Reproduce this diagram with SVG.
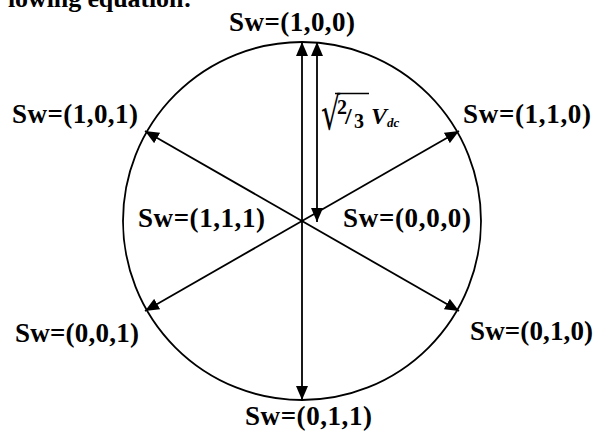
<svg xmlns="http://www.w3.org/2000/svg" width="598" height="439" viewBox="0 0 598 439">
<style>
.lbl{font-family:"Liberation Serif","Times New Roman",serif;font-weight:bold;font-size:27px;fill:#000}
.conn{stroke:#000;stroke-width:1.8;fill:none}
</style>
<defs>
<marker id="ah" viewBox="0 0 14 12" refX="14" refY="6" markerWidth="14" markerHeight="12" markerUnits="userSpaceOnUse" orient="auto-start-reverse">
<path d="M0,0 L14,6 L0,12 Z" fill="#000"/>
</marker>
</defs>
<rect width="598" height="439" fill="#fff"/>
<text x="8" y="7" font-family="Liberation Serif, serif" font-weight="bold" font-size="26" textLength="184">lowing equation:</text>
<g id="circle"><circle cx="302" cy="221" r="179" fill="none" stroke="#000" stroke-width="1.8"/></g>
<g id="connectors">
<line class="conn" x1="302" y1="42" x2="302" y2="400" marker-start="url(#ah)" marker-end="url(#ah)"/>
<line class="conn" x1="317" y1="42" x2="317" y2="222" marker-start="url(#ah)" marker-end="url(#ah)"/>
<line class="conn" x1="145" y1="131" x2="459" y2="311" marker-start="url(#ah)" marker-end="url(#ah)"/>
<line class="conn" x1="459" y1="131" x2="145" y2="311" marker-start="url(#ah)" marker-end="url(#ah)"/>
</g>
<g id="n100"><text class="lbl" x="229" y="31" textLength="126">Sw=(1,0,0)</text></g>
<g id="n101"><text class="lbl" x="12" y="123" textLength="126">Sw=(1,0,1)</text></g>
<g id="n110"><text class="lbl" x="463" y="123" textLength="128">Sw=(1,1,0)</text></g>
<g id="n111"><text class="lbl" x="138" y="227" textLength="127">Sw=(1,1,1)</text></g>
<g id="n000"><text class="lbl" x="343" y="227" textLength="128">Sw=(0,0,0)</text></g>
<g id="n001"><text class="lbl" x="15" y="342" textLength="124">Sw=(0,0,1)</text></g>
<g id="n010"><text class="lbl" x="470" y="340" textLength="123">Sw=(0,1,0)</text></g>
<g id="n011"><text class="lbl" x="245" y="425" textLength="127">Sw=(0,1,1)</text></g>
<g id="mag">
<text transform="translate(321,129) scale(1,1.5)" font-family="DejaVu Serif, serif" font-size="30">√</text>
<line x1="335" y1="93.5" x2="369" y2="93.5" stroke="#000" stroke-width="1.6"/>
<text x="337" y="114" font-family="Liberation Serif, serif" font-weight="bold" font-size="20">2</text>
<text x="345" y="124" font-family="Liberation Serif, serif" font-weight="bold" font-size="24">/</text>
<text x="354" y="128" font-family="Liberation Serif, serif" font-weight="bold" font-size="20">3</text>
<text x="371" y="124" font-family="Liberation Serif, serif" font-weight="bold" font-style="italic" font-size="24">V<tspan font-size="13" dy="3">dc</tspan></text>
</g>
</svg>
